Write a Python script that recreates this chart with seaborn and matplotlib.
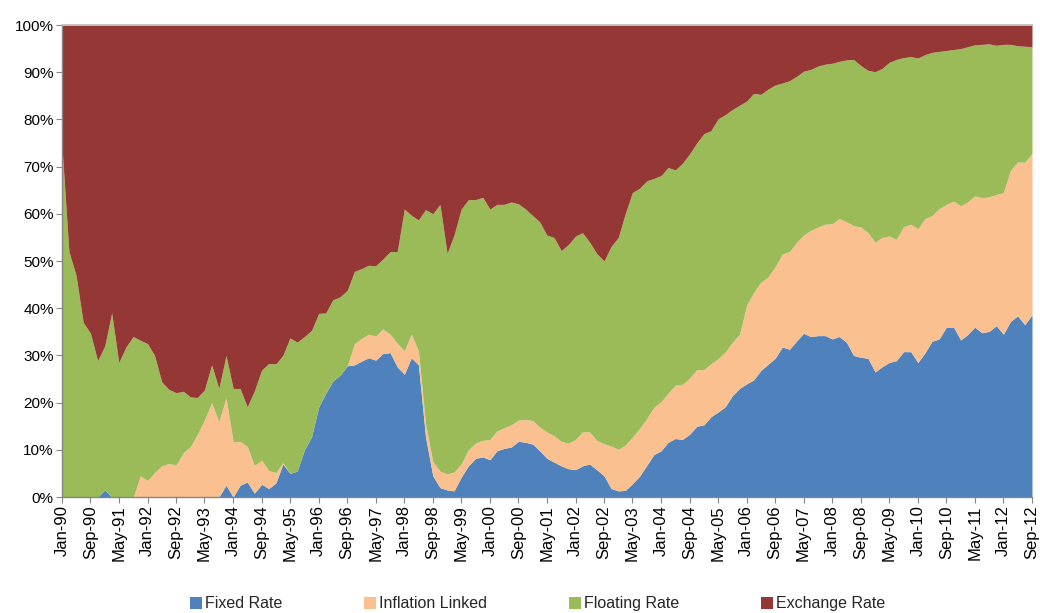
import numpy as np
import pandas as pd
import matplotlib
matplotlib.use("Agg")
import matplotlib.pyplot as plt
from matplotlib.ticker import PercentFormatter
import seaborn as sns

# Composition of debt by instrument type, % of total (readings every 2 months, Jan-90 .. Sep-12)
dates = pd.date_range("1990-01-01", "2012-09-01", freq="2MS")

fixed_rate = [
    0, 0, 0, 0, 0, 0, 1.5, 0, 0, 0, 0,
    0, 0, 0, 0, 0, 0, 0, 0, 0, 0,
    0, 0, 2.5, 0, 2.5, 3.2, 0.8, 2.7, 1.8, 3.0,
    7.0, 5.0, 5.5, 10.0, 12.8, 19.1, 22.0, 24.6, 25.8, 27.8,
    28.0, 28.8, 29.5, 29.0, 30.4, 30.6, 27.6, 26.0, 29.5, 28.0,
    12.7, 4.5, 2.0, 1.5, 1.3, 4.2, 6.6, 8.2, 8.5, 7.9,
    9.8, 10.3, 10.6, 11.8, 11.6, 11.2, 9.8, 8.2, 7.4, 6.6,
    6.0, 5.8, 6.6, 7.0, 5.8, 4.5, 1.8, 1.3, 1.4, 2.8,
    4.4, 6.7, 9.0, 9.8, 11.6, 12.4, 12.2, 13.3, 15.0, 15.3,
    17.0, 18.0, 19.1, 21.5, 23.0, 24.0, 24.8, 26.8, 28.1, 29.4,
    31.8, 31.3, 33.0, 34.7, 34.0, 34.2, 34.2, 33.5, 34.0, 32.8,
    30.0, 29.6, 29.4, 26.5, 27.6, 28.5, 28.9, 30.8, 30.8, 28.5,
    30.5, 33.0, 33.5, 36.0, 36.0, 33.3, 34.4, 36.0, 34.8, 35.1,
    36.3, 34.5, 37.2, 38.4, 36.5, 38.6,
]

inflation_linked = [
    0, 0, 0, 0, 0, 0, 0, 0, 0, 0, 0,
    4.5, 3.5, 5.2, 6.6, 7.1, 6.8, 9.4, 10.7, 13.3, 16.3,
    20.0, 16.0, 18.5, 11.7, 9.3, 7.5, 5.9, 5.1, 3.8, 2.2,
    0.3, 0, 0, 0, 0, 0, 0, 0, 0, 0,
    4.5, 4.8, 5.0, 5.1, 5.2, 3.9, 5.0, 5.0, 5.0, 3.0,
    2.8, 3.0, 3.5, 3.4, 4.0, 2.8, 3.4, 3.3, 3.5, 4.3,
    4.2, 4.4, 4.7, 4.5, 4.8, 5.0, 5.0, 5.6, 5.6, 5.2,
    5.4, 6.4, 7.2, 6.8, 6.2, 6.8, 9.0, 8.8, 9.6, 9.9,
    10.1, 10.0, 10.0, 10.4, 10.4, 11.3, 11.7, 11.9, 12.0, 11.7,
    11.2, 11.3, 11.6, 11.3, 11.5, 16.7, 18.5, 18.7, 18.5, 19.4,
    19.7, 20.7, 20.9, 20.8, 22.5, 23.0, 23.6, 24.4, 25.0, 25.5,
    27.5, 27.6, 26.6, 27.5, 27.4, 26.8, 25.7, 26.5, 27.0, 28.3,
    28.5, 26.6, 27.6, 26.0, 26.7, 28.4, 28.1, 27.8, 28.6, 28.5,
    27.8, 30.0, 32.0, 32.6, 34.4, 34.2,
]

floating_rate = [
    74.2, 52.0, 47.0, 37.0, 34.7, 28.9, 30.5, 39.0, 28.5, 31.8, 34.0,
    28.7, 29.0, 24.8, 17.8, 15.7, 15.3, 13.0, 10.5, 7.8, 6.4,
    8.0, 7.0, 9.0, 11.3, 11.2, 8.4, 15.8, 19.1, 22.7, 23.0,
    22.7, 28.7, 27.3, 24.0, 22.5, 19.8, 17.0, 17.2, 16.6, 16.0,
    15.3, 14.8, 14.6, 14.9, 14.8, 17.5, 19.4, 30.0, 25.2, 27.7,
    45.4, 52.5, 56.5, 46.7, 50.2, 54.0, 53.0, 51.5, 51.5, 48.8,
    48.0, 47.3, 47.2, 45.8, 44.6, 43.4, 43.5, 41.7, 42.0, 40.4,
    42.1, 43.1, 42.2, 40.2, 39.6, 38.7, 42.3, 44.9, 49.0, 51.8,
    50.9, 50.3, 48.5, 47.9, 47.8, 45.6, 46.8, 47.5, 48.0, 50.0,
    49.4, 50.8, 50.3, 49.3, 48.5, 43.2, 42.2, 39.8, 39.8, 38.5,
    36.2, 36.2, 35.2, 34.7, 34.1, 34.1, 33.9, 34.0, 33.3, 34.3,
    35.2, 34.2, 34.4, 36.1, 35.8, 36.8, 38.1, 35.8, 35.5, 36.2,
    34.7, 34.6, 33.3, 32.6, 32.1, 33.3, 32.9, 32.0, 32.5, 32.4,
    31.6, 31.4, 26.7, 24.6, 24.6, 22.6,
]

exchange_rate = [
    25.8, 48.0, 53.0, 63.0, 65.3, 71.1, 68.0, 61.0, 71.5, 68.2, 66.0,
    66.8, 67.5, 70.0, 75.6, 77.2, 77.9, 77.6, 78.8, 78.9, 77.3,
    72.0, 77.0, 70.0, 77.0, 77.0, 80.9, 77.5, 73.1, 71.7, 71.8,
    70.0, 66.3, 67.2, 66.0, 64.7, 61.1, 61.0, 58.2, 57.6, 56.2,
    52.2, 51.6, 50.9, 51.0, 49.6, 48.0, 48.0, 39.0, 40.3, 41.3,
    39.1, 40.0, 38.0, 48.4, 44.5, 39.0, 37.0, 37.0, 36.5, 39.0,
    38.0, 38.0, 37.5, 37.9, 39.0, 40.4, 41.7, 44.5, 45.0, 47.8,
    46.5, 44.7, 44.0, 46.0, 48.4, 50.0, 46.9, 45.0, 40.0, 35.5,
    34.6, 33.0, 32.5, 31.9, 30.2, 30.7, 29.3, 27.3, 25.0, 23.0,
    22.4, 19.9, 19.0, 17.9, 17.0, 16.1, 14.5, 14.7, 13.6, 12.7,
    12.3, 11.8, 10.9, 9.8, 9.4, 8.7, 8.3, 8.1, 7.7, 7.4,
    7.3, 8.6, 9.6, 9.9, 9.2, 7.9, 7.3, 6.9, 6.7, 7.0,
    6.3, 5.8, 5.6, 5.4, 5.2, 5.0, 4.6, 4.2, 4.1, 4.0,
    4.3, 4.1, 4.1, 4.4, 4.5, 4.6,
]

series_names = ["Fixed Rate", "Inflation Linked", "Floating Rate", "Exchange Rate"]
colors = ["#4F81BD", "#FAC090", "#9BBB59", "#953735"]

df = pd.DataFrame({
    "Fixed Rate": fixed_rate,
    "Inflation Linked": inflation_linked,
    "Floating Rate": floating_rate,
    "Exchange Rate": exchange_rate,
}, index=dates)

sns.set_theme(style="white")
plt.rcParams["font.family"] = ["Liberation Sans", "DejaVu Sans"]

fig = plt.figure(figsize=(10.4, 6.13), dpi=100)
ax = fig.add_axes([0.0596, 0.1892, 0.9327, 0.770])

ax.stackplot(df.index, [df[c] for c in series_names], colors=colors,
             labels=series_names, linewidth=0)

ax.set_ylim(0, 100)
ax.set_xlim(df.index[0], df.index[-1])
ax.yaxis.set_major_locator(plt.MultipleLocator(10))
ax.yaxis.set_major_formatter(PercentFormatter(decimals=0))

# category labels every 8 months, as in the original
tick_dates = pd.date_range("1990-01-01", "2012-09-01", freq="8MS")
ax.set_xticks(tick_dates)
ax.set_xticklabels([d.strftime("%b-%y") for d in tick_dates], rotation=90)

ax.tick_params(axis="x", labelsize=12, length=4, width=0.8, direction="out",
               pad=2, bottom=True, colors="#868686", labelcolor="black")
ax.tick_params(axis="y", labelsize=11, length=4, width=0.8, direction="out",
               pad=2, left=True, colors="#868686", labelcolor="black")

for side in ["left", "bottom"]:
    ax.spines[side].set_color("#868686")
    ax.spines[side].set_linewidth(1)
ax.spines["top"].set_color("#BFBFBF")
ax.spines["right"].set_visible(False)

fig.legend(loc="lower center", bbox_to_anchor=(0.517, -0.021), ncol=4,
           frameon=False, fontsize=11.5, handlelength=0.75, handleheight=0.75,
           handletextpad=0.2, columnspacing=5.1)

fig.savefig("out.png", dpi=100)
